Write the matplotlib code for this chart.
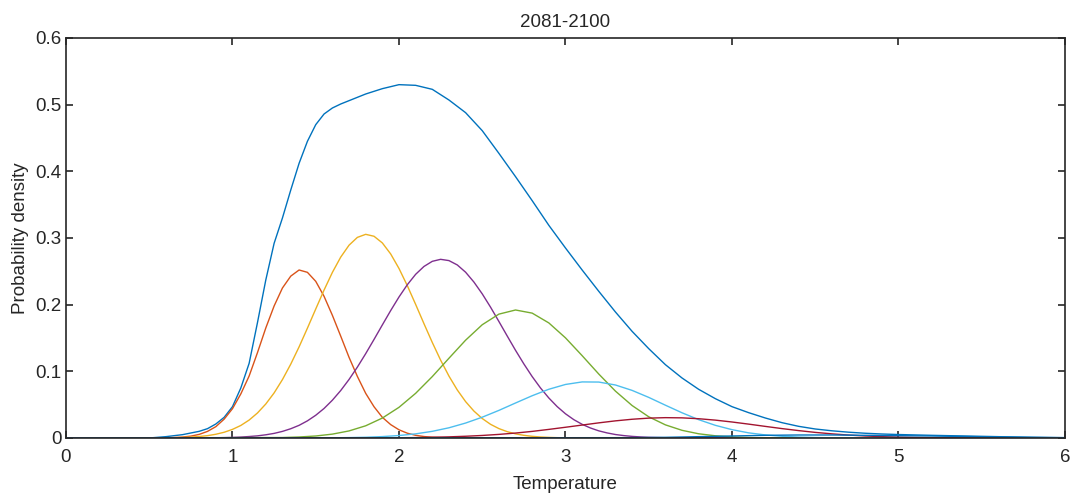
import numpy as np
import matplotlib
matplotlib.use("Agg")
import matplotlib.pyplot as plt

# values
total_x = [0.5, 0.6, 0.7, 0.8, 0.85, 0.9, 0.95, 1.0, 1.05, 1.1, 1.15, 1.2, 1.25,
           1.3, 1.35, 1.4, 1.45, 1.5, 1.55, 1.6, 1.65, 1.7, 1.8, 1.9, 2.0, 2.1,
           2.2, 2.3, 2.4, 2.5, 2.6, 2.7, 2.8, 2.9, 3.0, 3.1, 3.2, 3.3, 3.4, 3.5,
           3.6, 3.7, 3.8, 3.9, 4.0, 4.1, 4.2, 4.3, 4.4, 4.5, 4.6, 4.7, 4.8, 4.9,
           5.0, 5.1, 5.2, 5.3, 5.4, 5.5, 5.6, 5.7, 5.8, 5.9, 6.0]
total_y = [0, 0.002, 0.005, 0.010, 0.014, 0.021, 0.031, 0.047, 0.075, 0.112,
           0.173, 0.237, 0.292, 0.330, 0.372, 0.412, 0.445, 0.470, 0.486, 0.495,
           0.501, 0.506, 0.516, 0.524, 0.530, 0.529, 0.523, 0.507, 0.488, 0.461,
           0.427, 0.392, 0.356, 0.319, 0.285, 0.252, 0.220, 0.189, 0.160, 0.134,
           0.110, 0.090, 0.073, 0.059, 0.047, 0.038, 0.030, 0.023, 0.0175, 0.0135,
           0.0108, 0.0087, 0.0071, 0.006, 0.0052, 0.0046, 0.004, 0.0035, 0.003,
           0.0025, 0.002, 0.0015, 0.001, 0.0007, 0.0005]

# each component: (first temperature, step, densities)
orange = (0.6, 0.05, [0.0003, 0.0007, 0.0014, 0.0028, 0.0054, 0.0099, 0.017,
                      0.0283, 0.044, 0.0661, 0.093, 0.128, 0.165, 0.198, 0.225,
                      0.2428, 0.252, 0.2485, 0.235, 0.2125, 0.184, 0.1528, 0.121,
                      0.0924, 0.067, 0.0469, 0.031, 0.0201, 0.0123, 0.0072,
                      0.004, 0.0022, 0.0011, 0.0006, 0.0003])
yellow = (0.6, 0.05, [0.0003, 0.00045, 0.0008, 0.0013, 0.0022, 0.0035, 0.0056,
                      0.0086, 0.0129, 0.0188, 0.0269, 0.0375, 0.0510, 0.0676,
                      0.0876, 0.1108, 0.1367, 0.1647, 0.1935, 0.2219, 0.2484,
                      0.2713, 0.2892, 0.3009, 0.3055, 0.3026, 0.2926, 0.2761,
                      0.2543, 0.2285, 0.2004, 0.1715, 0.1433, 0.1168, 0.0929,
                      0.0721, 0.0546, 0.0404, 0.0292, 0.0205, 0.0141, 0.0095,
                      0.0062, 0.0040, 0.0025, 0.0015, 0.0009, 0.0005, 0.0003])
purple = (0.9, 0.05, [0.00035, 0.00057, 0.0009, 0.0014, 0.0022, 0.0032, 0.0048,
                      0.0069, 0.0099, 0.0139, 0.0190, 0.0257, 0.0341, 0.0443,
                      0.0567, 0.0712, 0.0878, 0.1063, 0.1265, 0.1478, 0.1696,
                      0.1911, 0.2115, 0.2299, 0.2455, 0.2573, 0.2650, 0.2680,
                      0.2661, 0.2596, 0.2487, 0.2339, 0.2162, 0.1962, 0.1748,
                      0.1530, 0.1315, 0.1111, 0.0921, 0.0750, 0.0600, 0.0471,
                      0.0363, 0.0275, 0.0205, 0.0150, 0.0107, 0.0076, 0.0052,
                      0.0036, 0.0024, 0.0016, 0.0010, 0.0007, 0.0004])
green = (1.3, 0.1, [0.0007, 0.0015, 0.0030, 0.0058, 0.0106, 0.0183, 0.0299,
                    0.0460, 0.0670, 0.0921, 0.1196, 0.1467, 0.1699, 0.1858,
                    0.1920, 0.1873, 0.1726, 0.1502, 0.1235, 0.0959, 0.0703,
                    0.0487, 0.0318, 0.0197, 0.0115, 0.0063, 0.0033, 0.0016,
                    0.0007, 0.0003])
cyan = (1.6, 0.1, [0.0003, 0.0006, 0.0011, 0.0021, 0.0037, 0.0062, 0.0100,
                   0.0153, 0.0224, 0.0312, 0.0414, 0.0525, 0.0634, 0.0731,
                   0.0803, 0.0841, 0.0839, 0.0795, 0.0714, 0.0609, 0.0492,
                   0.0378, 0.0275, 0.0190, 0.0125, 0.0077, 0.0046, 0.0026,
                   0.0014, 0.0007, 0.0003])
red = (2.0, 0.1, [0.0004, 0.0006, 0.0011, 0.0017, 0.0026, 0.0038, 0.0054,
                  0.0074, 0.0099, 0.0129, 0.0161, 0.0194, 0.0227, 0.0257,
                  0.0281, 0.0298, 0.0305, 0.0302, 0.0289, 0.0268, 0.0240,
                  0.0208, 0.0174, 0.0141, 0.0111, 0.0084, 0.0062, 0.0044,
                  0.0030, 0.0020, 0.0013, 0.0008, 0.0005, 0.0003])
tail = (3.4, 0.2, [0.0005, 0.001, 0.002, 0.003, 0.004, 0.0045, 0.0045, 0.004,
                   0.0035, 0.003, 0.0022, 0.0015, 0.001, 0.0005])

components = [orange, yellow, purple, green, cyan, red, tail]
colors = ["#D95319", "#EDB120", "#7E2F8E", "#77AC30", "#4DBEEE", "#A2142F", "#0072BD"]

plt.rcParams["font.family"] = ["Liberation Sans", "DejaVu Sans"]
ink = "#262626"

fig = plt.figure(figsize=(10.8, 4.98), dpi=100)
ax = fig.add_axes([0.0611, 0.1205, 0.9250, 0.8032])

ax.plot([0] + total_x, [0] + total_y, color="#0072BD", lw=1.0)
for (start, step, vals), c in zip(components, colors):
    xs = np.round(start + step * np.arange(len(vals)), 2)
    xs = np.concatenate([[0], xs, [6]])
    ys = np.concatenate([[0], vals, [0]])
    ax.plot(xs, ys, color=c, lw=1.0)

ax.set_xlim(0, 6)
ax.set_ylim(0, 0.6)
ax.set_xticks(range(7))
ax.set_yticks([0, 0.1, 0.2, 0.3, 0.4, 0.5, 0.6])
ax.set_yticklabels(["0", "0.1", "0.2", "0.3", "0.4", "0.5", "0.6"])
ax.tick_params(direction="in", top=True, right=True, length=5, width=1.2,
               colors=ink, labelsize=13.5)
ax.tick_params(axis="x", pad=8)
ax.tick_params(axis="y", pad=3)
for s in ax.spines.values():
    s.set_linewidth(1.2)
    s.set_color(ink)

ax.set_title("2081-2100", fontsize=13.5, color=ink, pad=8)
ax.set_xlabel("Temperature", fontsize=13.5, color=ink, labelpad=7)
ax.set_ylabel("Probability density", fontsize=13.5, color=ink, labelpad=5)

fig.savefig("out.png", dpi=100)
